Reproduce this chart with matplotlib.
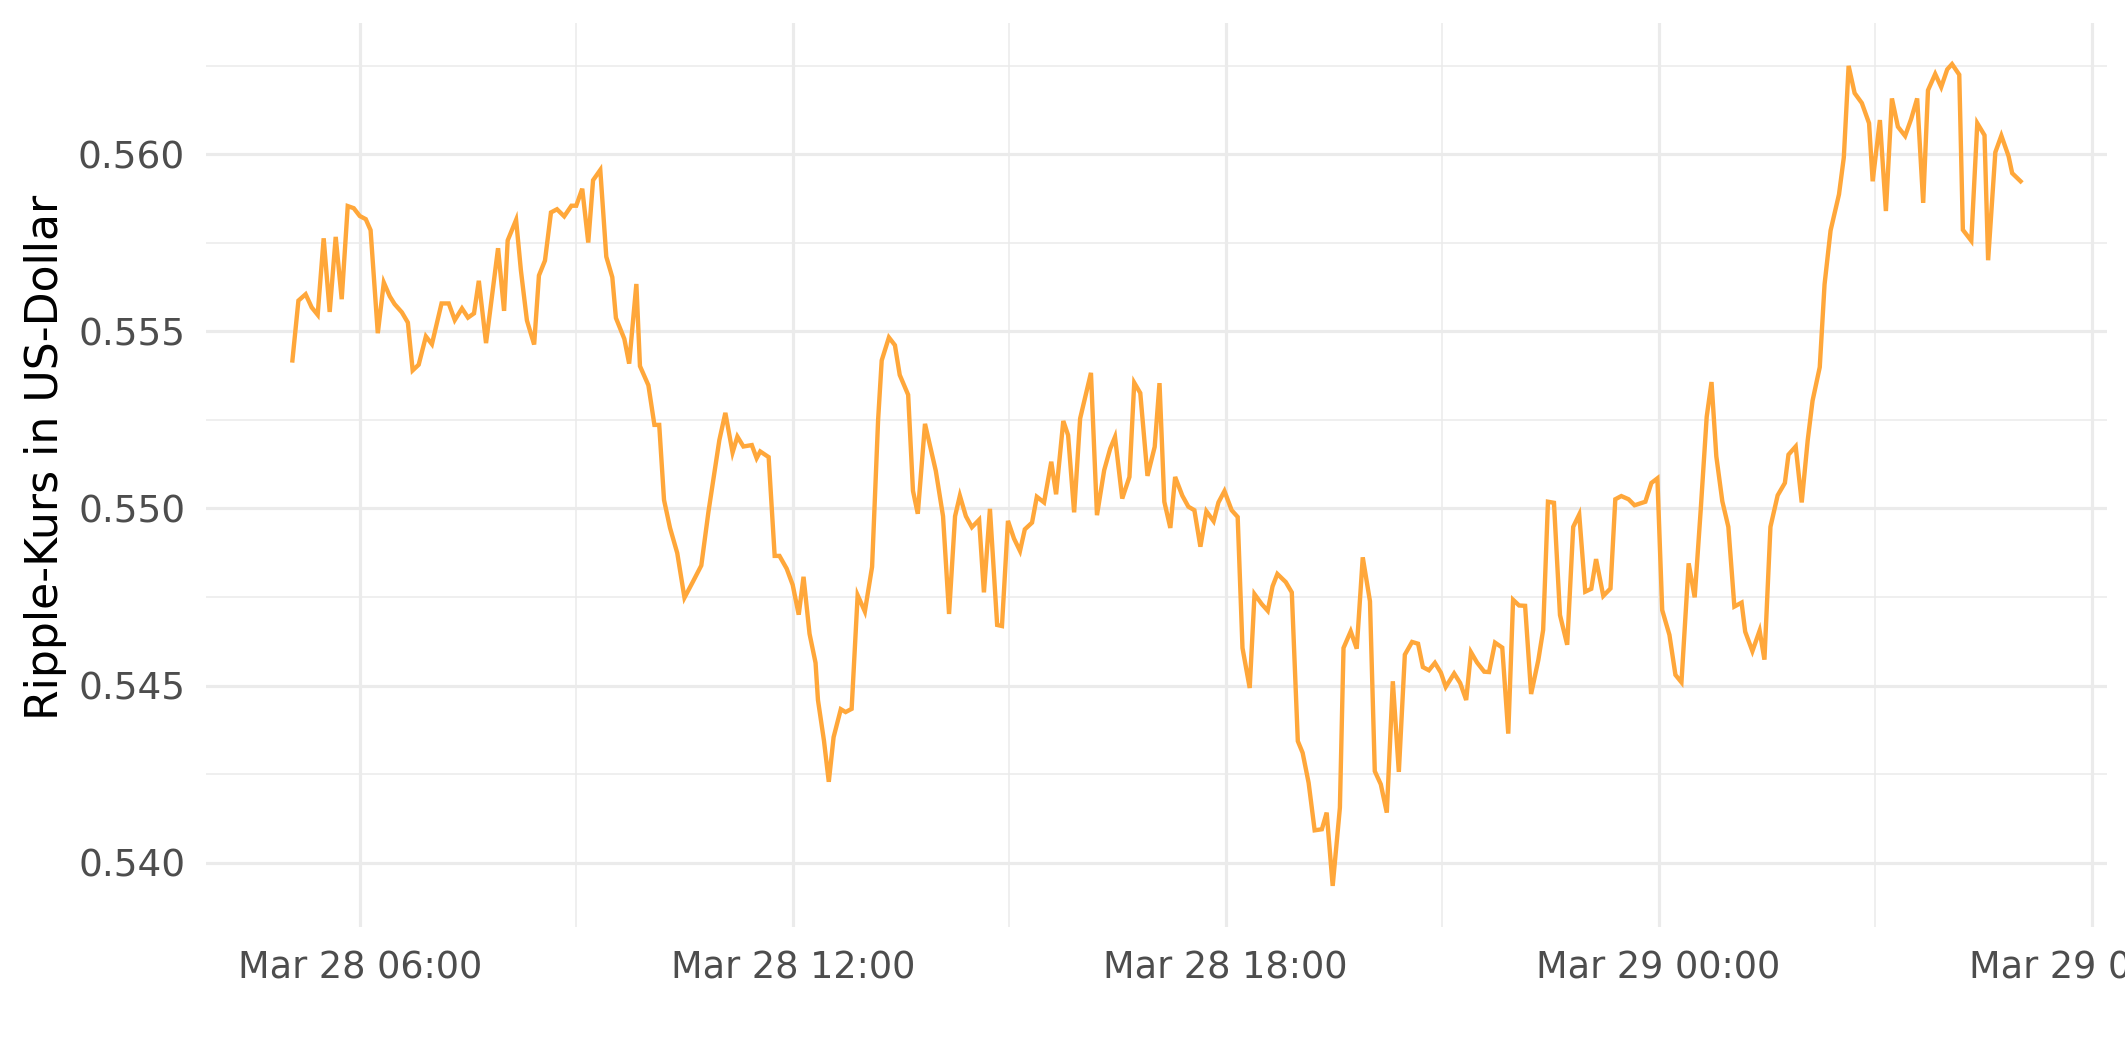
import matplotlib
matplotlib.use("Agg")
import matplotlib.pyplot as plt
import matplotlib.dates as mdates
import matplotlib.ticker as mticker
import pandas as pd

# minutes after 2023-03-28 00:00
minutes = [304,309,315,320,325,330,335,340,345,350,355,360,365,369,375,380,385,389,395,400,
           404,409,415,420,428,434,439,445,450,455,459,465,475,480,483,490,494,499,505,509,
           514,519,524,530,536,540,545,550,554,560,565,570,573,580,584,590,593,600,605,609,
           613,618,624,630,637,644,650,654,659,664,670,674,679,686,690,693,700,705,709,715,
           720,725,729,734,739,741,746,750,754,760,764,769,774,780,786,791,794,800,805,809,
           816,820,824,830,834,839,845,850,855,859,864,869,875,879,884,890,894,899,904,909,
           913,919,923,929,935,939,945,949,954,959,968,973,979,984,988,994,1000,1004,1009,1015,
           1021,1025,1029,1034,1038,1044,1049,1054,1059,1064,1070,1074,1079,1085,1090,1094,1100,1104,1110,1115,
           1119,1123,1130,1135,1140,1144,1149,1154,1160,1164,1169,1175,1178,1184,1189,1194,1200,1204,1209,1214,
           1219,1224,1229,1235,1240,1244,1249,1254,1259,1263,1270,1275,1280,1284,1289,1295,1299,1304,1310,1315,
           1319,1324,1329,1334,1340,1344,1348,1353,1358,1364,1369,1374,1379,1384,1388,1394,1400,1404,1409,1415,
           1420,1429,1434,1439,1443,1449,1454,1459,1465,1470,1475,1480,1484,1488,1493,1498,1503,1509,1512,1518,
           1524,1528,1533,1539,1545,1548,1554,1559,1564,1568,1574,1578,1583,1590,1594,1598,1603,1609,1615,1618,
           1624,1629,1634,1639,1645,1650,1655,1660,1664,1670,1675,1680,1684,1690,1693,1700,1705,1711,1714,1720,
           1725,1731,1734,1741]

prices = [0.55418,0.55587,0.55605,0.55568,0.55547,0.55763,0.55555,0.55767,0.55591,0.55854,
          0.55848,0.55826,0.55817,0.55786,0.55495,0.55638,0.55599,0.55577,0.55554,0.55525,
          0.55390,0.55406,0.55486,0.55464,0.55579,0.55579,0.55532,0.55565,0.55539,0.55551,
          0.55643,0.55467,0.55735,0.55558,0.55757,0.55815,0.55672,0.55531,0.55463,0.55658,
          0.55700,0.55836,0.55845,0.55825,0.55855,0.55855,0.55903,0.55751,0.55927,0.55956,
          0.55711,0.55653,0.55538,0.55479,0.55409,0.55634,0.55402,0.55348,0.55236,0.55236,
          0.55024,0.54945,0.54874,0.54748,0.54793,0.54839,0.54992,0.55081,0.55193,0.55270,
          0.55158,0.55203,0.55175,0.55179,0.55142,0.55161,0.55145,0.54866,0.54866,0.54830,
          0.54784,0.54700,0.54807,0.54646,0.54564,0.54459,0.54344,0.54228,0.54354,0.54433,
          0.54425,0.54434,0.54755,0.54709,0.54835,0.55249,0.55418,0.55483,0.55461,0.55377,
          0.55321,0.55050,0.54985,0.55239,0.55180,0.55106,0.54978,0.54702,0.54978,0.55036,
          0.54978,0.54947,0.54968,0.54763,0.54999,0.54671,0.54668,0.54965,0.54915,0.54880,
          0.54941,0.54960,0.55033,0.55017,0.55132,0.55040,0.55247,0.55207,0.54989,0.55254,
          0.55383,0.54981,0.55108,0.55169,0.55202,0.55028,0.55089,0.55355,0.55326,0.55092,
          0.55174,0.55354,0.55019,0.54945,0.55089,0.55036,0.55005,0.54995,0.54892,0.54992,
          0.54964,0.55017,0.55049,0.54995,0.54976,0.54606,0.54493,0.54758,0.54730,0.54711,
          0.54780,0.54815,0.54792,0.54763,0.54343,0.54310,0.54225,0.54091,0.54094,0.54141,
          0.53934,0.54155,0.54606,0.54653,0.54604,0.54862,0.54738,0.54258,0.54221,0.54141,
          0.54512,0.54256,0.54587,0.54623,0.54618,0.54552,0.54543,0.54564,0.54536,0.54496,
          0.54534,0.54507,0.54459,0.54594,0.54565,0.54539,0.54538,0.54621,0.54607,0.54364,
          0.54742,0.54726,0.54725,0.54476,0.54572,0.54657,0.55019,0.55016,0.54699,0.54615,
          0.54948,0.54983,0.54765,0.54773,0.54857,0.54753,0.54774,0.55026,0.55035,0.55026,
          0.55009,0.55019,0.55072,0.55085,0.54713,0.54643,0.54530,0.54509,0.54845,0.54749,
          0.54995,0.55259,0.55357,0.55147,0.55020,0.54948,0.54723,0.54734,0.54652,0.54597,
          0.54655,0.54573,0.54948,0.55037,0.55072,0.55152,0.55175,0.55017,0.55193,0.55304,
          0.55399,0.55633,0.55785,0.55887,0.55991,0.56250,0.56173,0.56145,0.56088,0.55924,
          0.56097,0.55840,0.56158,0.56078,0.56052,0.56100,0.56158,0.55863,0.56181,0.56227,
          0.56190,0.56240,0.56255,0.56225,0.55787,0.55756,0.56088,0.56054,0.55701,0.56006,
          0.56053,0.55995,0.55947,0.55924]

y_ticks = [0.540, 0.545, 0.550, 0.555, 0.560]
y_label = "Ripple-Kurs in US-Dollar"
line_color = "#FFA73A"

assert len(minutes) == len(prices)
start = pd.Timestamp("2023-03-28 00:00")
times = [start + pd.Timedelta(minutes=m) for m in minutes]

DPI = 300
fig = plt.figure(figsize=(2125 / DPI, 1062 / DPI), dpi=DPI)
ax = fig.add_axes([206 / 2125, 1 - 927 / 1062, (2107 - 206) / 2125, (927 - 23) / 1062])

ax.plot(times, prices, color=line_color, linewidth=1.05, solid_joinstyle="miter", zorder=3)
ax.margins(x=0.05, y=0.05)

ax.xaxis.set_major_locator(mdates.HourLocator(byhour=[0, 6, 12, 18]))
ax.xaxis.set_minor_locator(mdates.HourLocator(byhour=[3, 9, 15, 21]))
ax.xaxis.set_major_formatter(mdates.DateFormatter("%b %d %H:%M"))
ax.yaxis.set_major_locator(mticker.FixedLocator(y_ticks))
ax.yaxis.set_minor_locator(mticker.MultipleLocator(0.0025))
ax.yaxis.set_major_formatter(mticker.FormatStrFormatter("%.3f"))

grid_col = "#EBEBEB"
ax.grid(which="major", color=grid_col, linewidth=0.75, zorder=0)
ax.grid(which="minor", color=grid_col, linewidth=0.38, zorder=0)
ax.set_axisbelow(True)
for s in ax.spines.values():
    s.set_visible(False)
ax.tick_params(which="both", length=0)
ax.tick_params(axis="x", labelsize=8.8, labelcolor="#4D4D4D", pad=5.5)
ax.tick_params(axis="y", labelsize=9.0, labelcolor="#4D4D4D", pad=5)
ax.set_ylabel(y_label, fontsize=10.6, color="black")
ax.yaxis.set_label_coords(-0.073, 0.52)
ax.set_facecolor("white")

fig.savefig("out.png", dpi=DPI, facecolor="white")
